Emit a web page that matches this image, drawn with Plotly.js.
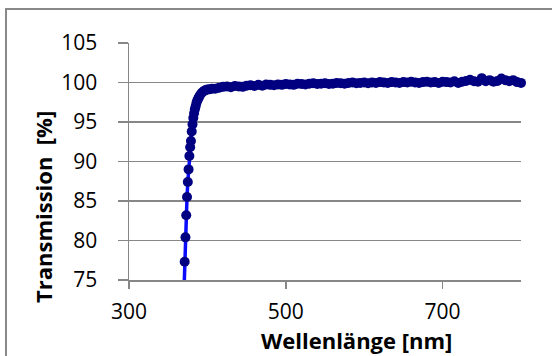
<!DOCTYPE html>
<html>
<head>
<meta charset="utf-8">
<script src="https://cdn.plot.ly/plotly-3.0.1.min.js"></script>
<style>
  html, body { margin: 0; padding: 0; background: #fff; }
  #chart { width: 552px; height: 356px; }
</style>
</head>
<body>
<div id="chart"></div>
<script>
// Wavelength [nm]
const wavelength = [
  368, 369, 370, 371, 372, 373, 374, 375, 376, 377, 378, 379, 380,
  381, 382, 383, 384, 385, 386, 387, 388, 389, 390, 392, 394, 396, 398,
  400, 403, 406, 410, 415,
  420, 425, 430, 435, 440, 445, 450, 455, 460, 465, 470, 475, 480, 485,
  490, 495, 500, 505, 510, 515, 520, 525, 530, 535, 540, 545, 550, 555,
  560, 565, 570, 575, 580, 585, 590, 595, 600, 605, 610, 615, 620, 625,
  630, 635, 640, 645, 650, 655, 660, 665, 670, 675, 680, 685, 690, 695,
  700, 705, 710, 715, 720, 725, 730, 735, 740, 745, 750, 755, 760, 765,
  770, 775, 780, 785, 790, 795, 800
];
// Transmission [%]
const transmission = [
  67.0, 70.8, 74.2, 77.3, 80.4, 83.2, 85.5, 87.4, 89.0, 90.7, 91.8, 92.6, 93.8,
  94.7, 95.5, 96.1, 96.6, 97.0, 97.4, 97.7, 97.9, 98.1, 98.3, 98.6, 98.8, 98.95, 99.05,
  99.1, 99.15, 99.2, 99.2, 99.35,
  99.45, 99.5, 99.4, 99.55, 99.5, 99.45, 99.6, 99.65, 99.55, 99.7, 99.6, 99.75, 99.7, 99.65,
  99.75, 99.7, 99.8, 99.75, 99.7, 99.85, 99.8, 99.75, 99.85, 99.9, 99.8, 99.85, 99.9, 99.8,
  99.85, 99.95, 99.9, 99.85, 99.95, 100.0, 99.9, 99.95, 100.0, 99.9, 100.0, 99.95, 100.05, 100.0,
  99.95, 100.05, 100.0, 99.95, 100.05, 100.0, 100.1, 100.0, 99.95, 100.05, 100.1, 100.0, 100.05, 99.95,
  100.1, 100.05, 100.0, 100.15, 99.95, 100.1, 100.2, 100.35, 100.15, 100.1, 100.55, 100.15, 100.3, 100.1,
  100.2, 100.5, 100.3, 100.15, 100.3, 100.05, 99.95
];
const xTicks = [300, 500, 700];
const yTicks = [75, 80, 85, 90, 95, 100, 105];
const xTitle = 'Wellenlänge [nm]';
const yTitle = 'Transmission  [%]';

const xRange = [300, 800];
const yRange = [75, 105];

const W = 552, H = 356;
const m = {l: 129, r: 31, t: 43, b: 76};
const pw = W - m.l - m.r, ph = H - m.t - m.b;
const px = v => (v - m.l) / pw;          // pixel x -> paper x
const py = v => (H - m.b - v) / ph;      // pixel y -> paper y

const font = 'Open Sans, Lato, sans-serif';

// markers only for points inside the visible y range (line is still clipped by the axes)
const markerSizes = transmission.map(v => (v < yRange[0] ? 0 : 10));

const trace = {
  x: wavelength,
  y: transmission,
  type: 'scatter',
  mode: 'lines+markers',
  line: {color: '#0a0aff', width: 3.5},
  marker: {color: '#000080', size: markerSizes, opacity: 1, line: {width: 0}},
  cliponaxis: false,
  hoverinfo: 'skip'
};

const layout = {
  width: W, height: H,
  margin: m,
  paper_bgcolor: '#ffffff',
  plot_bgcolor: '#ffffff',
  showlegend: false,
  font: {family: font, color: '#000000', size: 21},
  xaxis: {
    range: xRange,
    tickvals: xTicks,
    ticktext: xTicks.map(String),
    ticks: 'outside', ticklen: 7, tickwidth: 1.5, tickcolor: '#878787',
    showgrid: false,
    showline: true, linecolor: '#878787', linewidth: 1.5,
    zeroline: false,
    tickfont: {family: font, size: 21, color: '#000000'},
    ticklabelstandoff: 5
  },
  yaxis: {
    range: yRange,
    tickvals: yTicks,
    ticktext: yTicks.map(String),
    ticks: 'outside', ticklen: 10, tickwidth: 1.5, tickcolor: '#878787',
    showgrid: true, gridcolor: '#878787', gridwidth: 1.5,
    showline: true, linecolor: '#878787', linewidth: 1.5,
    zeroline: false,
    tickfont: {family: font, size: 21, color: '#000000'},
    ticklabelstandoff: 16
  },
  annotations: [
    {
      text: xTitle, xref: 'paper', yref: 'paper',
      x: px(356.5), y: py(340), xanchor: 'center', yanchor: 'middle',
      showarrow: false, borderpad: 0,
      font: {family: font, size: 22, color: '#000000', weight: 700}
    },
    {
      text: yTitle, xref: 'paper', yref: 'paper',
      x: px(43), y: py(207), xanchor: 'center', yanchor: 'middle',
      textangle: -90, showarrow: false, borderpad: 0,
      font: {family: font, size: 22, color: '#000000', weight: 700}
    }
  ],
  shapes: [
    {type: 'line', xref: 'paper', yref: 'paper',
     x0: px(6), x1: px(6), y0: py(9), y1: py(H + 5),
     line: {color: '#898989', width: 2}},
    {type: 'line', xref: 'paper', yref: 'paper',
     x0: px(5), x1: px(W + 5), y0: py(9), y1: py(9),
     line: {color: '#898989', width: 2}}
  ]
};

Plotly.newPlot('chart', [trace], layout, {staticPlot: true, displayModeBar: false});
</script>
</body>
</html>
